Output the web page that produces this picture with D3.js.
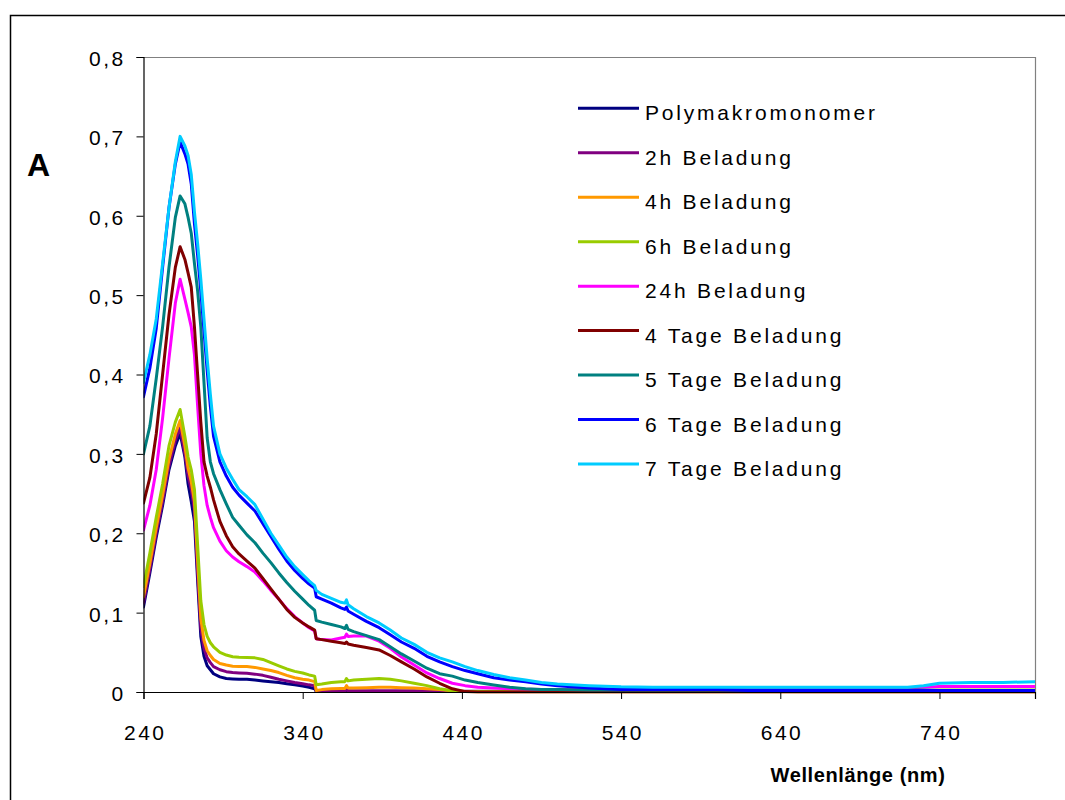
<!DOCTYPE html>
<html>
<head>
<meta charset="utf-8">
<script src="https://cdn.jsdelivr.net/npm/d3@7"></script>
<style>
  body { margin: 0; background: #fff; }
  svg { display: block; }
  text { font-family: "Liberation Sans", Arial, sans-serif; fill: #000; }
</style>
</head>
<body>
<svg id="chart" width="1065" height="800"></svg>
<script>
// Wavelength grid (nm) shared by all spectra
const wavelengths = [
  240, 244, 248, 252, 256, 260, 263, 266, 268, 270,
  272, 274, 276, 278, 280, 282, 284, 288, 292, 296,
  300, 305, 310, 315, 320, 325, 330, 335, 340, 344,
  347.5, 348.5, 352, 358, 364, 366.5, 367.5, 368.5, 372, 380,
  388, 395, 402, 410, 418, 426, 434, 442, 450, 460,
  470, 480, 490, 500, 520, 540, 560, 580, 600, 620,
  640, 660, 680, 700, 720, 730, 740, 760, 780, 800
];

// Absorbance values per sample
const polymakromonomer = [
  0.107, 0.150, 0.195, 0.235, 0.280, 0.310, 0.326, 0.296, 0.262, 0.240,
  0.215, 0.140, 0.070, 0.045, 0.033, 0.028, 0.023, 0.019, 0.017, 0.0165,
  0.016, 0.016, 0.015, 0.014, 0.013, 0.012, 0.0105, 0.009, 0.0075, 0.006,
  0.004, 0.0005, 0.0005, 0.0005, 0.0005, 0.0005, 0.001, 0.0005, 0.0005, 0.0005,
  0.0005, 0.0005, 0.0005, 0.0005, 0.0005, 0.0005, 0.0005, 0.0005, 0.0005, 0.0005,
  0.0005, 0.0005, 0.0005, 0.0005, 0.0005, 0.0005, 0.0005, 0.0005, 0.0005, 0.0005,
  0.0005, 0.0005, 0.0005, 0.0005, 0.0005, 0.0005, 0.0005, 0.0005, 0.0005, 0.0005
];
const beladung2h = [
  0.112, 0.155, 0.200, 0.240, 0.285, 0.317, 0.333, 0.300, 0.272, 0.255,
  0.230, 0.150, 0.080, 0.055, 0.043, 0.037, 0.032, 0.028, 0.0256, 0.0245,
  0.024, 0.0235, 0.0225, 0.021, 0.0185, 0.016, 0.014, 0.012, 0.0105, 0.009,
  0.008, 0.001, 0.0015, 0.0015, 0.0015, 0.0015, 0.003, 0.0015, 0.0015, 0.0015,
  0.0015, 0.0015, 0.0015, 0.0015, 0.0012, 0.001, 0.001, 0.001, 0.001, 0.001,
  0.001, 0.001, 0.001, 0.001, 0.001, 0.001, 0.001, 0.001, 0.001, 0.001,
  0.001, 0.001, 0.001, 0.001, 0.001, 0.001, 0.001, 0.001, 0.001, 0.001
];
const beladung4h = [
  0.120, 0.162, 0.207, 0.248, 0.293, 0.325, 0.342, 0.310, 0.282, 0.265,
  0.240, 0.165, 0.093, 0.065, 0.052, 0.046, 0.041, 0.036, 0.034, 0.0325,
  0.032, 0.032, 0.031, 0.029, 0.027, 0.0245, 0.021, 0.018, 0.016, 0.015,
  0.013, 0.002, 0.003, 0.004, 0.0045, 0.0045, 0.008, 0.005, 0.005, 0.0055,
  0.006, 0.006, 0.0055, 0.005, 0.004, 0.003, 0.0015, 0.0005, 0, 0,
  0, 0, 0, 0, 0, 0, 0, 0, 0, 0,
  0, 0, 0, 0, 0, 0, 0, 0, 0, 0
];
const beladung6h = [
  0.133, 0.175, 0.220, 0.262, 0.310, 0.340, 0.356, 0.322, 0.296, 0.280,
  0.255, 0.185, 0.115, 0.085, 0.070, 0.062, 0.057, 0.050, 0.0466, 0.0445,
  0.0437, 0.0435, 0.043, 0.041, 0.037, 0.033, 0.029, 0.026, 0.024, 0.0215,
  0.020, 0.009, 0.010, 0.012, 0.013, 0.013, 0.017, 0.014, 0.015, 0.016,
  0.017, 0.016, 0.014, 0.011, 0.008, 0.004, 0.0015, 0.0005, 0.0005, 0.0005,
  0.0005, 0.0005, 0.0005, 0.0005, 0.0005, 0.0005, 0.0005, 0.0005, 0.0005, 0.0005,
  0.0005, 0.0005, 0.0008, 0.001, 0.0012, 0.002, 0.0025, 0.0025, 0.0025, 0.0025
];
const beladung24h = [
  0.204, 0.235, 0.280, 0.345, 0.420, 0.490, 0.520, 0.495, 0.478, 0.460,
  0.425, 0.360, 0.300, 0.260, 0.235, 0.220, 0.207, 0.190, 0.178, 0.170,
  0.164, 0.158, 0.151, 0.140, 0.128, 0.117, 0.105, 0.095, 0.087, 0.081,
  0.077, 0.067, 0.066, 0.0655, 0.068, 0.069, 0.073, 0.070, 0.0705, 0.0705,
  0.064, 0.055, 0.044, 0.034, 0.024, 0.017, 0.011, 0.008, 0.006, 0.005,
  0.004, 0.0035, 0.003, 0.003, 0.003, 0.003, 0.003, 0.0035, 0.004, 0.004,
  0.004, 0.004, 0.0045, 0.0045, 0.005, 0.006, 0.007, 0.007, 0.007, 0.007
];
const tage4 = [
  0.238, 0.270, 0.325, 0.400, 0.475, 0.535, 0.561, 0.545, 0.528, 0.510,
  0.460, 0.400, 0.340, 0.290, 0.272, 0.258, 0.242, 0.215, 0.197, 0.183,
  0.174, 0.165, 0.156, 0.143, 0.130, 0.117, 0.104, 0.094, 0.087, 0.082,
  0.078, 0.067, 0.066, 0.064, 0.062, 0.061, 0.063, 0.0605, 0.059, 0.056,
  0.053, 0.046, 0.038, 0.029, 0.019, 0.011, 0.004, 0.0005, 0, 0,
  0, 0, 0, 0, 0, 0, 0, 0, 0, 0,
  0, 0, 0, 0, 0, 0, 0, 0, 0, 0
];
const tage5 = [
  0.300, 0.335, 0.395, 0.460, 0.535, 0.598, 0.625, 0.615, 0.598, 0.578,
  0.540, 0.505, 0.460, 0.390, 0.320, 0.290, 0.275, 0.255, 0.237, 0.220,
  0.210, 0.198, 0.188, 0.175, 0.163, 0.150, 0.138, 0.127, 0.117, 0.109,
  0.103, 0.090, 0.088, 0.085, 0.082, 0.080, 0.084, 0.079, 0.076, 0.071,
  0.066, 0.057, 0.048, 0.039, 0.030, 0.023, 0.020, 0.015, 0.012, 0.0088,
  0.006, 0.004, 0.003, 0.003, 0.0025, 0.0025, 0.0025, 0.0025, 0.0025, 0.0025,
  0.0025, 0.0025, 0.0025, 0.0025, 0.0025, 0.0025, 0.002, 0.002, 0.002, 0.002
];
const tage6 = [
  0.372, 0.408, 0.458, 0.535, 0.610, 0.665, 0.693, 0.678, 0.665, 0.640,
  0.590, 0.550, 0.505, 0.455, 0.405, 0.360, 0.322, 0.290, 0.272, 0.258,
  0.248, 0.238, 0.228, 0.212, 0.196, 0.180, 0.165, 0.153, 0.143, 0.136,
  0.131, 0.120, 0.117, 0.112, 0.106, 0.104, 0.107, 0.102, 0.098, 0.089,
  0.081, 0.072, 0.063, 0.055, 0.045, 0.038, 0.032, 0.027, 0.023, 0.018,
  0.015, 0.013, 0.010, 0.008, 0.005, 0.003, 0.003, 0.003, 0.003, 0.002,
  0.002, 0.002, 0.002, 0.002, 0.002, 0.002, 0.002, 0.002, 0.002, 0.002
];
const tage7 = [
  0.390, 0.425, 0.470, 0.540, 0.610, 0.668, 0.700, 0.688, 0.676, 0.652,
  0.605, 0.565, 0.520, 0.470, 0.420, 0.375, 0.335, 0.300, 0.282, 0.268,
  0.255, 0.246, 0.236, 0.218, 0.200, 0.185, 0.170, 0.158, 0.148, 0.140,
  0.134, 0.128, 0.123, 0.118, 0.113, 0.112, 0.116, 0.110, 0.105, 0.095,
  0.087, 0.078, 0.068, 0.060, 0.050, 0.043, 0.038, 0.032, 0.027, 0.022,
  0.018, 0.015, 0.012, 0.010, 0.008, 0.0065, 0.006, 0.006, 0.006, 0.006,
  0.006, 0.006, 0.006, 0.006, 0.006, 0.008, 0.011, 0.012, 0.012, 0.013
];

const seriesNames = [
  "Polymakromonomer", "2h Beladung", "4h Beladung", "6h Beladung", "24h Beladung",
  "4 Tage Beladung", "5 Tage Beladung", "6 Tage Beladung", "7 Tage Beladung"
];
const seriesValues = [
  polymakromonomer, beladung2h, beladung4h, beladung6h, beladung24h,
  tage4, tage5, tage6, tage7
];
const seriesColors = [
  "#000080", "#800080", "#FF9900", "#99CC00", "#FF00FF",
  "#800000", "#008080", "#0000FF", "#00CCFF"
];

const xTicks = [240, 340, 440, 540, 640, 740];
const yTicks = [0, 0.1, 0.2, 0.3, 0.4, 0.5, 0.6, 0.7, 0.8];
const yTickLabels = ["0", "0,1", "0,2", "0,3", "0,4", "0,5", "0,6", "0,7", "0,8"];

const svg = d3.select("#chart");
const plot = { left: 143.5, right: 1035, top: 57, bottom: 692 };

const x = d3.scaleLinear().domain([240, 800]).range([plot.left, plot.right]);
const y = d3.scaleLinear().domain([0, 0.8]).range([plot.bottom, plot.top]);

// Outer chart frame
svg.append("rect")
  .attr("x", 10.5).attr("y", 15.5)
  .attr("width", 1080).attr("height", 800)
  .attr("fill", "none").attr("stroke", "#000").attr("stroke-width", 1.5);

// Plot area border (top and right)
svg.append("path")
  .attr("d", `M${plot.left},${plot.top + 0.5}H${plot.right + 0.5}V${plot.bottom}`)
  .attr("fill", "none").attr("stroke", "#808080").attr("stroke-width", 1.2);

// Clip the spectra to the plot area
svg.append("defs").append("clipPath").attr("id", "plotClip")
  .append("rect")
  .attr("x", plot.left).attr("y", plot.top)
  .attr("width", plot.right - plot.left).attr("height", plot.bottom - plot.top + 1.5);

const line = d3.line()
  .x((d, i) => x(wavelengths[i]))
  .y(d => y(d));

svg.append("g").attr("clip-path", "url(#plotClip)")
  .selectAll("path")
  .data(seriesValues)
  .join("path")
  .attr("d", d => line(d))
  .attr("fill", "none")
  .attr("stroke", (d, i) => seriesColors[i])
  .attr("stroke-width", 3)
  .attr("stroke-linejoin", "round")
  .attr("stroke-linecap", "round");

// Y axis
const yAxis = svg.append("g")
  .attr("transform", `translate(${plot.left},0)`)
  .call(d3.axisLeft(y).tickValues(yTicks).tickSize(7).tickPadding(11)
    .tickFormat((d, i) => yTickLabels[i]));
yAxis.select(".domain").attr("stroke", "#000").attr("stroke-width", 1.2);
yAxis.selectAll(".tick line").attr("stroke", "#000");
yAxis.selectAll(".tick text")
  .attr("font-size", 21).attr("letter-spacing", "2.4px")
  .attr("font-family", "'Liberation Sans', Arial, sans-serif")
  .attr("dy", "0.4em");

// X axis
const xAxis = svg.append("g")
  .attr("transform", `translate(0,${plot.bottom})`)
  .call(d3.axisBottom(x).tickValues(xTicks).tickSize(7).tickFormat(d => String(d)));
xAxis.select(".domain").attr("stroke", "#000").attr("stroke-width", 1.2);
xAxis.selectAll(".tick line").attr("stroke", "#000");
xAxis.selectAll(".tick text")
  .attr("font-size", 21).attr("letter-spacing", "2.4px")
  .attr("font-family", "'Liberation Sans', Arial, sans-serif")
  .attr("dx", "1.2px")
  .attr("y", 48).attr("dy", null);

// Axis titles
svg.append("text")
  .attr("x", 858).attr("y", 782)
  .attr("text-anchor", "middle")
  .attr("font-size", 20).attr("font-weight", "bold")
  .attr("letter-spacing", "0.6px")
  .text("Wellenlänge (nm)");

svg.append("text")
  .attr("x", 27).attr("y", 176)
  .attr("font-size", 32).attr("font-weight", "bold")
  .text("A");

// Legend
const legend = svg.append("g");
const legendRows = legend.selectAll("g")
  .data(seriesNames)
  .join("g")
  .attr("transform", (d, i) => `translate(578,${108.3 + i * 44.46})`);
legendRows.append("line")
  .attr("x1", 0).attr("x2", 61)
  .attr("stroke", (d, i) => seriesColors[i])
  .attr("stroke-width", 3);
legendRows.append("text")
  .attr("x", 67).attr("y", 12)
  .attr("font-size", 21).attr("letter-spacing", "2.8px")
  .text(d => d);
</script>
</body>
</html>
